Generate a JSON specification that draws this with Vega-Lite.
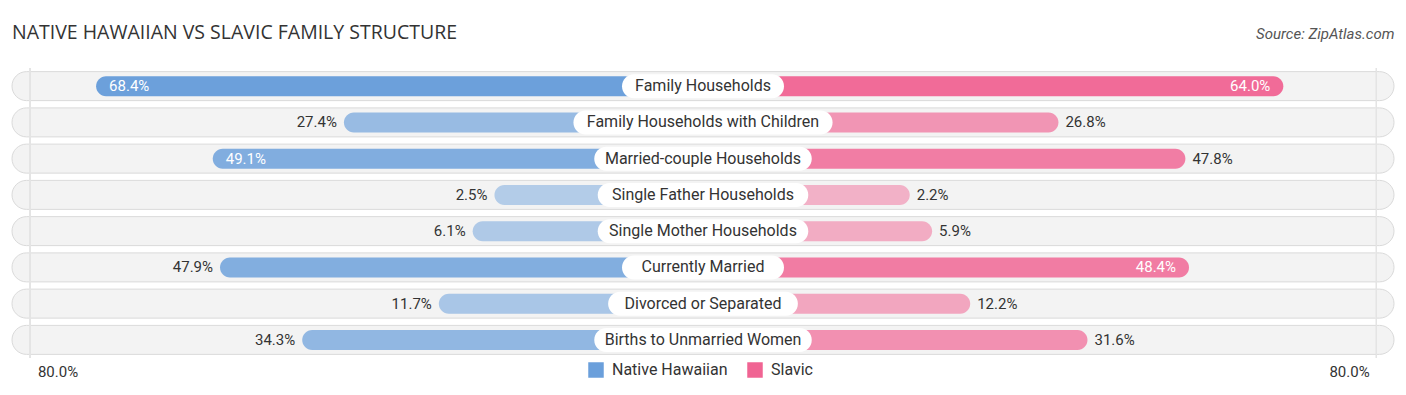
{
  "$schema": "https://vega.github.io/schema/vega-lite/v6.json",
  "width": 1382,
  "height": 290,
  "autosize": "none",
  "padding": {"left": 12, "right": 12, "top": 68, "bottom": 37},
  "background": "white",
  "title": {
    "text": "NATIVE HAWAIIAN VS SLAVIC FAMILY STRUCTURE",
    "anchor": "start",
    "frame": "group",
    "font": "Open Sans",
    "fontSize": 19.5,
    "fontWeight": "normal",
    "color": "#333333",
    "baseline": "middle",
    "offset": -26
  },
  "config": {"view": {"stroke": null}, "font": "Roboto"},
  "data": {
    "values": [
      {"label": "Family Households", "nh": 0.684, "sl": 0.640},
      {"label": "Family Households with Children", "nh": 0.274, "sl": 0.268},
      {"label": "Married-couple Households", "nh": 0.491, "sl": 0.478},
      {"label": "Single Father Households", "nh": 0.025, "sl": 0.022},
      {"label": "Single Mother Households", "nh": 0.061, "sl": 0.059},
      {"label": "Currently Married", "nh": 0.479, "sl": 0.484},
      {"label": "Divorced or Separated", "nh": 0.117, "sl": 0.122},
      {"label": "Births to Unmarried Women", "nh": 0.343, "sl": 0.316}
    ]
  },
  "layer": [
    {
      "mark": {"type": "bar", "size": 29, "cornerRadius": 14.5, "color": "#f3f3f3", "stroke": "#dadada", "strokeWidth": 1},
      "encoding": {
        "y": {"field": "label", "type": "nominal", "sort": null, "axis": null, "scale": {"paddingInner": 0, "paddingOuter": 0}},
        "x": {"datum": -1.4631, "type": "quantitative", "scale": {"domain": [-1.4631, 0.8231], "nice": false, "zero": false},
          "axis": {"orient": "top", "title": "Source: ZipAtlas.com", "labels": false, "ticks": false, "domain": false, "grid": false,
            "titleFont": "Roboto", "titleFontSize": 15, "titleFontStyle": "italic", "titleFontWeight": "normal", "titleColor": "#555555",
            "titleAnchor": "end", "titleAlign": "right", "titleBaseline": "middle", "titleY": -35}},
        "x2": {"datum": 0.8231}
      }
    },
    {
      "mark": {"type": "rule", "color": "#e4e4e4", "strokeWidth": 1, "y2Offset": 23},
      "encoding": {
        "x": {"datum": -1.4333, "type": "quantitative", "scale": {"domain": [-1.4631, 0.8231], "nice": false, "zero": false},
          "axis": {"orient": "bottom", "values": [-1.3878, 0.7487], "labelExpr": "'80.0%'", "title": null, "ticks": false, "domain": false, "grid": false,
            "labelFont": "Roboto", "labelFontSize": 15, "labelColor": "#333333", "labelPadding": 6, "labelFlush": false, "labelOverlap": false}}
      }
    },
    {
      "mark": {"type": "rule", "color": "#e4e4e4", "strokeWidth": 1, "y2Offset": 23},
      "encoding": {
        "x": {"datum": 0.794, "type": "quantitative", "scale": {"domain": [-1.4631, 0.8231], "nice": false, "zero": false}, "axis": null}
      }
    },
    {
      "mark": {"type": "bar", "size": 20, "cornerRadius": 10},
      "encoding": {
        "y": {"field": "label", "type": "nominal", "sort": null, "axis": null},
        "x": {"field": "nh", "type": "quantitative", "scale": {"domain": [-1.4631, 0.8231], "nice": false, "zero": false, "reverse": true}, "axis": null},
        "x2": {"datum": -0.32},
        "color": {"datum": "Native Hawaiian", "type": "nominal",
          "scale": {"domain": ["Native Hawaiian", "Slavic"], "range": ["#6a9fdb", "#f06493"]},
          "legend": {"orient": "none", "legendX": 576, "legendY": 294, "direction": "horizontal", "title": null,
            "symbolType": "square", "symbolSize": 240, "symbolStrokeWidth": 0, "symbolOpacity": 1,
            "labelFont": "Roboto", "labelFontSize": 16, "labelColor": "#333333", "labelOffset": 8, "columnPadding": 19}},
        "opacity": {"field": "nh", "type": "quantitative", "scale": {"domain": [0, 0.7], "range": [0.45, 1]}, "legend": null}
      }
    },
    {
      "mark": {"type": "bar", "size": 20, "cornerRadius": 10},
      "encoding": {
        "y": {"field": "label", "type": "nominal", "sort": null, "axis": null},
        "x": {"field": "sl", "type": "quantitative", "scale": {"domain": [-1.4631, 0.8231], "nice": false, "zero": false}, "axis": null},
        "x2": {"datum": -0.32},
        "color": {"datum": "Slavic", "type": "nominal"},
        "opacity": {"field": "sl", "type": "quantitative", "legend": null}
      }
    },
    {
      "mark": {"type": "bar", "size": 24, "cornerRadius": 12, "color": "white",
        "xOffset": {"expr": "-(22 + 3.47 * length(datum.label))"},
        "x2Offset": {"expr": "22 + 3.47 * length(datum.label)"}},
      "encoding": {
        "y": {"field": "label", "type": "nominal", "sort": null, "axis": null},
        "x": {"datum": -0.32, "type": "quantitative", "scale": {"domain": [-1.4631, 0.8231], "nice": false, "zero": false}, "axis": null},
        "x2": {"datum": -0.32}
      }
    },
    {
      "mark": {"type": "text", "font": "Roboto", "fontSize": 16, "color": "#333333", "align": "center", "baseline": "middle"},
      "encoding": {
        "y": {"field": "label", "type": "nominal", "sort": null, "axis": null},
        "x": {"datum": -0.32, "type": "quantitative", "scale": {"domain": [-1.4631, 0.8231], "nice": false, "zero": false}, "axis": null},
        "text": {"field": "label", "type": "nominal"}
      }
    },
    {
      "transform": [{"filter": "datum.nh > 0.48"}],
      "mark": {"type": "text", "font": "Roboto", "fontSize": 15, "color": "white", "align": "left", "baseline": "middle", "dx": 13},
      "encoding": {
        "y": {"field": "label", "type": "nominal", "sort": null, "axis": null},
        "x": {"field": "nh", "type": "quantitative", "scale": {"domain": [-1.4631, 0.8231], "nice": false, "zero": false, "reverse": true}, "axis": null},
        "text": {"field": "nh", "type": "quantitative", "format": ".1%"}
      }
    },
    {
      "transform": [{"filter": "datum.nh <= 0.48"}],
      "mark": {"type": "text", "font": "Roboto", "fontSize": 15, "color": "#333333", "align": "right", "baseline": "middle", "dx": -7},
      "encoding": {
        "y": {"field": "label", "type": "nominal", "sort": null, "axis": null},
        "x": {"field": "nh", "type": "quantitative", "scale": {"domain": [-1.4631, 0.8231], "nice": false, "zero": false, "reverse": true}, "axis": null},
        "text": {"field": "nh", "type": "quantitative", "format": ".1%"}
      }
    },
    {
      "transform": [{"filter": "datum.sl > 0.48"}],
      "mark": {"type": "text", "font": "Roboto", "fontSize": 15, "color": "white", "align": "right", "baseline": "middle", "dx": -13},
      "encoding": {
        "y": {"field": "label", "type": "nominal", "sort": null, "axis": null},
        "x": {"field": "sl", "type": "quantitative", "scale": {"domain": [-1.4631, 0.8231], "nice": false, "zero": false}, "axis": null},
        "text": {"field": "sl", "type": "quantitative", "format": ".1%"}
      }
    },
    {
      "transform": [{"filter": "datum.sl <= 0.48"}],
      "mark": {"type": "text", "font": "Roboto", "fontSize": 15, "color": "#333333", "align": "left", "baseline": "middle", "dx": 7},
      "encoding": {
        "y": {"field": "label", "type": "nominal", "sort": null, "axis": null},
        "x": {"field": "sl", "type": "quantitative", "scale": {"domain": [-1.4631, 0.8231], "nice": false, "zero": false}, "axis": null},
        "text": {"field": "sl", "type": "quantitative", "format": ".1%"}
      }
    }
  ],
  "resolve": {"scale": {"x": "independent"}, "axis": {"x": "independent"}}
}
